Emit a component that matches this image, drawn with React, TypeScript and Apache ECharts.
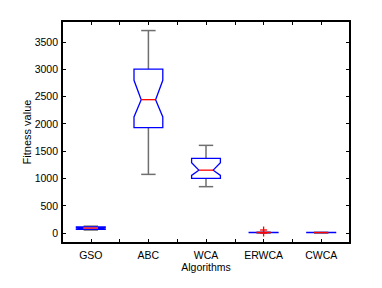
import React, { useEffect, useRef } from "react";
import * as echarts from "echarts";

const categories = ["GSO", "ABC", "WCA", "ERWCA", "CWCA"];
const whiskerLow = [55, 1073, 848, 0, 0];
const q1 = [68, 1928, 1000, 8, 6];
const median = [90, 2440, 1150, 10, 8];
const q3 = [112, 3000, 1366, 12, 10];
const whiskerHigh = [125, 3705, 1604, 14, 12];
const notchLow = [78, 2125, 1055, 9, 7];
const notchHigh = [102, 2795, 1288, 11, 9];
const outlierCat = [4, 4];
const outlierVal = [55, 0];
const yTicks = [0, 500, 1000, 1500, 2000, 2500, 3000, 3500];
const xTicks = [1, 1.5, 2, 2.5, 3, 3.5, 4, 4.5, 5];
const xLabels = [1, 2, 3, 4, 5];

const FONT = "'Liberation Sans', Arial, sans-serif";

export default function App() {
  const ref = useRef<HTMLDivElement>(null);
  useEffect(() => {
    const chart = echarts.init(ref.current!, undefined, { renderer: "svg" });
    const boxData = categories.map((_, i) => [
      i + 1,
      whiskerLow[i],
      q1[i],
      median[i],
      q3[i],
      whiskerHigh[i],
      notchLow[i],
      notchHigh[i],
    ]);
    const outData = outlierCat.map((c, i) => [c, outlierVal[i]]);
    const axisLineStyle = { color: "#000", width: 2 };
    chart.setOption({
      animation: false,
      backgroundColor: "#fff",
      grid: { left: 62, top: 21, right: 32, bottom: 45 },
      xAxis: [
        {
          type: "value",
          min: 0.5,
          max: 5.5,
          position: "bottom",
          axisLine: { show: true, onZero: false, lineStyle: axisLineStyle },
          axisTick: { show: true, inside: true, length: 4, customValues: xTicks, lineStyle: { color: "#000", width: 1 } },
          axisLabel: {
            show: true,
            customValues: xLabels,
            formatter: (v: number) => categories[Math.round(v) - 1] || "",
            fontSize: 10.5,
            fontFamily: FONT,
            color: "#000",
            margin: 6,
          },
          splitLine: { show: false },
        },
        {
          type: "value",
          min: 0.5,
          max: 5.5,
          position: "top",
          axisLine: { show: true, onZero: false, lineStyle: axisLineStyle },
          axisTick: { show: true, inside: true, length: 4, customValues: xTicks, lineStyle: { color: "#000", width: 1 } },
          axisLabel: { show: false },
          splitLine: { show: false },
        },
      ],
      yAxis: [
        {
          type: "value",
          min: -183,
          max: 3880,
          position: "left",
          axisLine: { show: true, onZero: false, lineStyle: axisLineStyle },
          axisTick: { show: true, inside: true, length: 4, customValues: yTicks, lineStyle: { color: "#000", width: 1 } },
          axisLabel: {
            show: true,
            customValues: yTicks,
            formatter: (v: number) => String(Math.round(v)),
            fontSize: 10.5,
            fontFamily: FONT,
            color: "#000",
            margin: 4,
          },
          splitLine: { show: false },
        },
        {
          type: "value",
          min: -183,
          max: 3880,
          position: "right",
          axisLine: { show: true, onZero: false, lineStyle: axisLineStyle },
          axisTick: { show: true, inside: true, length: 4, customValues: yTicks, lineStyle: { color: "#000", width: 1 } },
          axisLabel: { show: false },
          splitLine: { show: false },
        },
      ],
      graphic: [
        {
          type: "text",
          x: 206,
          y: 267,
          style: {
            text: "Algorithms",
            fontSize: 10.5,
            fontFamily: FONT,
            fill: "#000",
            align: "center",
            verticalAlign: "middle",
          },
        },
        {
          type: "text",
          x: 27,
          y: 132,
          rotation: Math.PI / 2,
          style: {
            text: "Fitness value",
            fontSize: 11,
            fontFamily: FONT,
            fill: "#000",
            align: "center",
            verticalAlign: "middle",
          },
        },
      ],
      series: [
        {
          type: "custom",
          xAxisIndex: 0,
          yAxisIndex: 0,
          data: boxData,
          clip: false,
          renderItem: (params: any, api: any) => {
            const x = api.value(0);
            const lo = api.value(1);
            const a = api.value(2);
            const m = api.value(3);
            const b = api.value(4);
            const hi = api.value(5);
            const nl = api.value(6);
            const nh = api.value(7);
            const hw = 0.25;
            const nw = 0.125;
            const P = (xx: number, yy: number) => api.coord([xx, yy]);
            const gray = { stroke: "#6f6f6f", lineWidth: 1.5, fill: "none" };
            const line = (p1: number[], p2: number[], style: any) => ({
              type: "line",
              shape: { x1: p1[0], y1: p1[1], x2: p2[0], y2: p2[1] },
              style,
            });
            const poly = [
              P(x - hw, a),
              P(x - hw, nl),
              P(x - nw, m),
              P(x - hw, nh),
              P(x - hw, b),
              P(x + hw, b),
              P(x + hw, nh),
              P(x + nw, m),
              P(x + hw, nl),
              P(x + hw, a),
            ];
            return {
              type: "group",
              children: [
                line(P(x, b), P(x, hi), gray),
                line(P(x, a), P(x, lo), gray),
                line(P(x - nw, hi), P(x + nw, hi), gray),
                line(P(x - nw, lo), P(x + nw, lo), gray),
                {
                  type: "polygon",
                  shape: { points: poly },
                  style: { stroke: "#0000ff", lineWidth: 1.3, fill: "none" },
                },
                line(P(x - nw, m), P(x + nw, m), { stroke: "#ff0000", lineWidth: 1.3 }),
              ],
            };
          },
        },
        {
          type: "custom",
          xAxisIndex: 0,
          yAxisIndex: 0,
          data: outData,
          clip: false,
          renderItem: (params: any, api: any) => {
            const p = api.coord([api.value(0), api.value(1)]);
            const s = 3.5;
            const st = { stroke: "#ff0000", lineWidth: 1.3 };
            return {
              type: "group",
              children: [
                { type: "line", shape: { x1: p[0] - s, y1: p[1], x2: p[0] + s, y2: p[1] }, style: st },
                { type: "line", shape: { x1: p[0], y1: p[1] - s, x2: p[0], y2: p[1] + s }, style: st },
              ],
            };
          },
        },
      ],
    });
    return () => chart.dispose();
  }, []);
  return (
    <div
      ref={ref}
      style={{ position: "fixed", left: 0, top: 0, width: 382, height: 288, background: "#fff" }}
    />
  );
}
